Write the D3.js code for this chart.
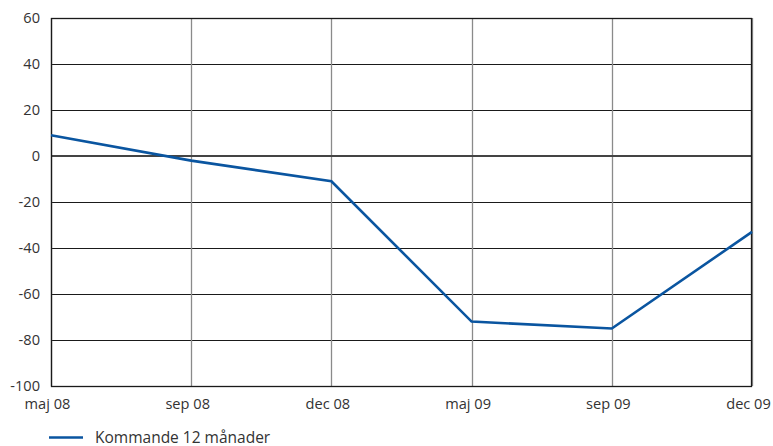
<!DOCTYPE html>
<html>
<head>
<meta charset="utf-8">
<script src="https://cdn.jsdelivr.net/npm/d3@7"></script>
<style>
  html, body { margin: 0; padding: 0; background: #fff; }
  svg { display: block; font-family: "Open Sans", "Noto Sans", sans-serif; }
</style>
</head>
<body>
<svg id="chart" width="773" height="446"></svg>
<script>
// Förväntningar, kommande 12 månader
const categories = ["maj 08", "sep 08", "dec 08", "maj 09", "sep 09", "dec 09"];
const values = [9, -2, -11, -72, -75, -33];
const yTicks = [60, 40, 20, 0, -20, -40, -60, -80, -100];
const seriesName = "Kommande 12 månader";

const svg = d3.select("#chart");
const margin = { left: 51, right: 21, top: 18, bottom: 60 };
const W = 773, H = 446;
const x0 = margin.left, x1 = W - margin.right;
const y0 = margin.top, y1 = H - margin.bottom;
const axisFont = "14.6px";
const legendFont = "15.5px";

const x = d3.scalePoint().domain(categories).range([x0, x1]);
const y = d3.scaleLinear().domain([-100, 60]).range([y1, y0]);

const lineColor = "#0a55a0";

// Horizontal grid lines
svg.append("g")
  .selectAll("line")
  .data(yTicks)
  .join("line")
  .attr("x1", x0).attr("x2", x1)
  .attr("y1", d => Math.round(y(d)) + 0.5).attr("y2", d => Math.round(y(d)) + 0.5)
  .attr("stroke", "#1a1a1a")
  .attr("stroke-width", 1);

// Vertical grid lines at each category
svg.append("g")
  .selectAll("line")
  .data(categories)
  .join("line")
  .attr("x1", d => Math.round(x(d)) + 0.5).attr("x2", d => Math.round(x(d)) + 0.5)
  .attr("y1", y0).attr("y2", y1)
  .attr("stroke", "#8a8a8a")
  .attr("stroke-width", 1.3);

// Zero line
svg.append("line")
  .attr("x1", x0).attr("x2", x1)
  .attr("y1", y(0)).attr("y2", y(0))
  .attr("stroke", "#444")
  .attr("stroke-width", 2);

// Plot frame
svg.append("rect")
  .attr("x", x0 + 0.5).attr("y", y0 + 0.5)
  .attr("width", x1 - x0 - 1).attr("height", y1 - y0)
  .attr("fill", "none")
  .attr("stroke", "#1a1a1a")
  .attr("stroke-width", 1.3);

// Y axis labels (plain hyphen for negatives)
const yAxis = d3.axisLeft(y).tickValues(yTicks).tickFormat(d => String(d)).tickSize(0).tickPadding(11);
const gy = svg.append("g").attr("transform", `translate(${x0},0)`).call(yAxis);
gy.select(".domain").remove();
gy.selectAll("text")
  .attr("fill", "#333")
  .style("font-size", axisFont)
  .style("font-family", "'Open Sans', sans-serif");

// X axis labels, nudged slightly left of their gridlines
const xAxis = d3.axisBottom(x).tickSize(0).tickPadding(13);
const gx = svg.append("g").attr("transform", `translate(-4,${y1})`).call(xAxis);
gx.select(".domain").remove();
gx.selectAll("text")
  .attr("fill", "#333")
  .style("font-size", axisFont)
  .style("font-family", "'Open Sans', sans-serif");

// Series line
const line = d3.line()
  .x((d, i) => x(categories[i]))
  .y(d => y(d));

svg.append("path")
  .datum(values)
  .attr("d", line)
  .attr("fill", "none")
  .attr("stroke", lineColor)
  .attr("stroke-width", 2.6)
  .attr("stroke-linejoin", "miter");

// Legend
const lg = svg.append("g").attr("transform", "translate(49,437.5)");
lg.append("line")
  .attr("x1", 0).attr("x2", 34)
  .attr("y1", 0).attr("y2", 0)
  .attr("stroke", lineColor)
  .attr("stroke-width", 2.6);
lg.append("text")
  .attr("x", 46).attr("y", 5)
  .attr("fill", "#333")
  .style("font-size", legendFont)
  .text(seriesName);
</script>
</body>
</html>
